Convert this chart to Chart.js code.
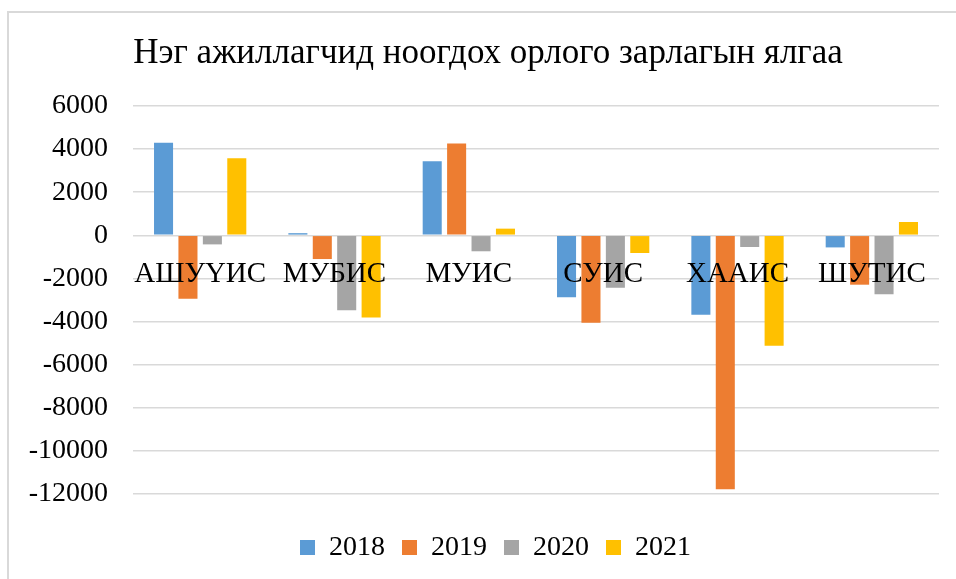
<!DOCTYPE html>
<html>
<head>
<meta charset="utf-8">
<script src="https://cdn.jsdelivr.net/npm/chart.js@4"></script>
<style>
  html, body { margin: 0; padding: 0; background: #fff; overflow: hidden; }
  #frame { position: absolute; left: 7px; top: 11px; right: -10px; bottom: -10px; border: 2px solid #d9d9d9; }
  #myChart { position: absolute; left: 0; top: 0; }
</style>
</head>
<body>
<div id="frame"></div>
<canvas id="myChart" width="956" height="579"></canvas>
<script>
    const categories = ["АШУҮИС", "МУБИС", "МУИС", "СУИС", "ХААИС", "ШУТИС"];
    const years = ["2018", "2019", "2020", "2021"];
    const v2018 = [4300, 100, 3440, -2870, -3690, -560];
    const v2019 = [-2940, -1100, 4260, -4060, -11780, -2290];
    const v2020 = [-420, -3470, -740, -2430, -540, -2730];
    const v2021 = [3580, -3810, 310, -820, -5120, 620];
    const yTicks = [-12000, -10000, -8000, -6000, -4000, -2000, 0, 2000, 4000, 6000];

    const colors = ["#5B9BD5", "#ED7D31", "#A5A5A5", "#FFC000"];
    const serif = "'Times New Roman', 'Liberation Serif', serif";

    const series = [v2018, v2019, v2020, v2021];

    // title and legend sit a bit right of the canvas centre in the original
    const shiftBlocks = {
      id: "shiftBlocks",
      afterLayout(chart) {
        chart.titleBlock.left += 9.5;
        chart.titleBlock.right += 9.5;
        chart.legend.left += 17;
        chart.legend.right += 17;
      }
    };

    const ctx = document.getElementById("myChart").getContext("2d");
    const chart = new Chart(ctx, {
      type: "bar",
      data: {
        labels: categories,
        datasets: series.map((vals, i) => ({
          label: years[i],
          data: vals,
          backgroundColor: colors[i],
          borderWidth: 0,
          categoryPercentage: 0.727,
          barPercentage: 0.78
        }))
      },
      plugins: [shiftBlocks],
      options: {
        responsive: false,
        animation: false,
        layout: { padding: { left: 18, right: 17, top: 12, bottom: 7.5 } },
        plugins: {
          title: {
            display: true,
            text: "Нэг ажиллагчид ноогдох орлого зарлагын ялгаа",
            color: "#000",
            font: { family: serif, size: 35, weight: "normal" },
            padding: { top: 21, bottom: 31 }
          },
          legend: {
            position: "bottom",
            labels: {
              color: "#000",
              font: { family: serif, size: 28 },
              boxWidth: 15,
              boxHeight: 15,
              padding: 17
            }
          },
          tooltip: { enabled: false }
        },
        scales: {
          x: {
            position: { y: 0 },
            grid: { display: false, drawTicks: false },
            border: { display: false },
            ticks: {
              z: 1,
              color: "#000",
              font: { family: serif, size: 29 },
              padding: 22,
              autoSkip: false,
              maxRotation: 0,
              minRotation: 0
            }
          },
          // empty bottom axis, only keeps room between plot and legend
          x2: {
            type: "category",
            labels: categories,
            position: "bottom",
            grid: { display: false, drawTicks: false },
            border: { display: false },
            ticks: { display: false },
            afterFit: (scale) => { scale.height = 22.5; }
          },
          y: {
            min: -12000,
            max: 6000,
            afterBuildTicks: (scale) => { scale.ticks = yTicks.map(v => ({ value: v })); },
            grid: { color: "#d9d9d9", lineWidth: 1.5, drawTicks: false },
            border: { display: false },
            ticks: {
              color: "#000",
              font: { family: serif, size: 28 },
              padding: 25,
              callback: (value) => String(value)
            },
            afterFit: (scale) => { scale.width = 115; }
          }
        }
      }
    });
</script>
</body>
</html>
